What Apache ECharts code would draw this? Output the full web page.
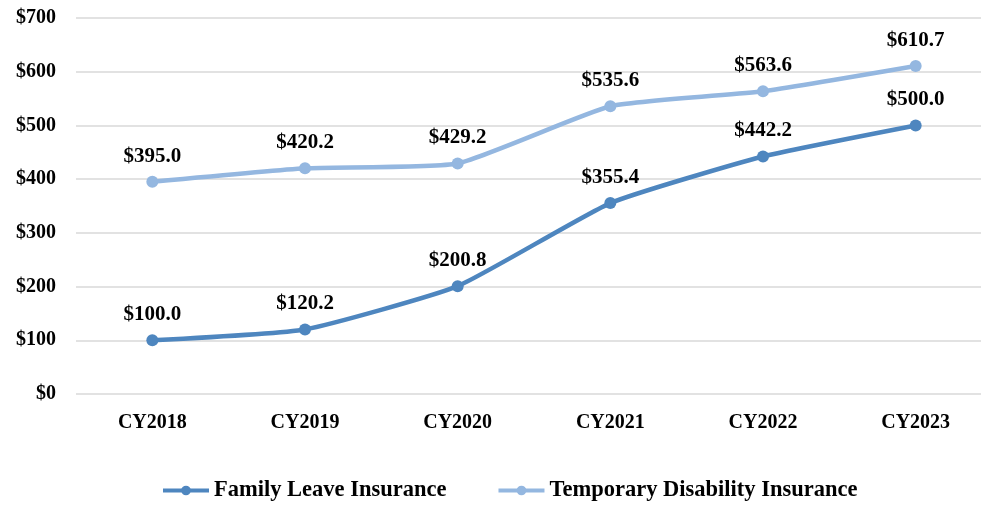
<!DOCTYPE html>
<html><head><meta charset="utf-8">
<script src="https://cdn.jsdelivr.net/npm/echarts@6/dist/echarts.min.js"></script>
<style>html,body{margin:0;padding:0;background:#fff;overflow:hidden}#c{width:992px;height:507px}</style>
</head><body><div id="c"></div>
<script>
const categories = ['CY2018','CY2019','CY2020','CY2021','CY2022','CY2023'];
const familyLeave = [100.0, 120.2, 200.8, 355.4, 442.2, 500.0];
const tempDisability = [395.0, 420.2, 429.2, 535.6, 563.6, 610.7];
const yTicks = {min: 0, max: 700, interval: 100};
const font = 'Liberation Serif';
const chart = echarts.init(document.getElementById('c'));
const lbl = {show: true, position: 'top', distance: 9, fontFamily: font, fontWeight: 'bold', fontSize: 21, color: '#000',
  formatter: p => '$' + p.value.toFixed(1)};
chart.setOption({
  animation: false,
  grid: {left: 76, right: 0, top: 18, bottom: 113},
  legend: {bottom: 0, left: 156, itemWidth: 46, itemHeight: 12, itemGap: 50,
    lineStyle: {width: 4},
    textStyle: {fontFamily: font, fontWeight: 'bold', fontSize: 22.5, color: '#000'},
    data: ['Family Leave Insurance', 'Temporary Disability Insurance']},
  xAxis: {type: 'category', data: categories, boundaryGap: true,
    axisLine: {show: false}, axisTick: {show: false},
    axisLabel: {fontFamily: font, fontWeight: 'bold', fontSize: 20, color: '#000', margin: 19}},
  yAxis: {type: 'value', min: yTicks.min, max: yTicks.max, interval: yTicks.interval,
    axisLine: {show: false}, axisTick: {show: false},
    splitLine: {lineStyle: {color: '#d9d9d9', width: 1.5}},
    axisLabel: {fontFamily: font, fontWeight: 'bold', fontSize: 20, color: '#000', margin: 20, formatter: v => '$' + v}},
  series: [
    {name: 'Family Leave Insurance', type: 'line', data: familyLeave, smooth: 0.15,
     symbol: 'circle', symbolSize: 12, lineStyle: {width: 4.5, color: '#4E86BF'}, itemStyle: {color: '#4E86BF'}, label: lbl},
    {name: 'Temporary Disability Insurance', type: 'line', data: tempDisability, smooth: 0.15,
     symbol: 'circle', symbolSize: 12, lineStyle: {width: 4.5, color: '#94B7E0'}, itemStyle: {color: '#94B7E0'}, label: lbl}
  ]
});
</script></body></html>
